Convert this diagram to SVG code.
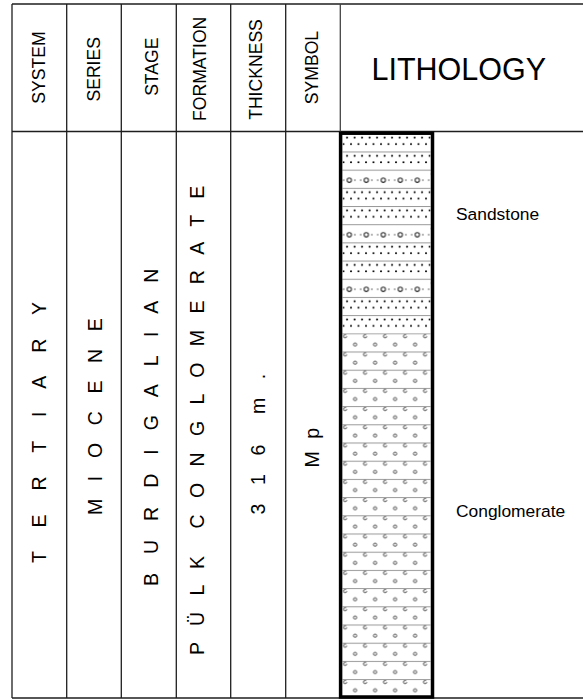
<svg xmlns="http://www.w3.org/2000/svg" width="583" height="699" viewBox="0 0 583 699">
  <style>
    text { font-family: "Liberation Sans", Arial, Helvetica, sans-serif; fill: #000; }
    .hdr { font-size: 17.6px; text-anchor: middle; }
    .big { font-size: 30.5px; }
    .col { font-size: 19.5px; white-space: pre; }
    .lbl { font-size: 17.4px; }
    .grid { stroke: #1e1e1e; stroke-width: 1.3; fill: none; }
  </style>
  <defs>
    <!-- sandstone: two staggered rows of dots per band, grey band line on top -->
    <pattern id="sand" patternUnits="userSpaceOnUse" x="342.5" y="133.3" width="7.5" height="18.18">
      <rect width="7.5" height="18.18" fill="#fff"/>
      <rect width="7.5" height="1" fill="#9a9a9a"/>
      <circle cx="4.6" cy="4.4" r="1" fill="#000"/>
      <circle cx="1" cy="10.7" r="1" fill="#000"/>
    </pattern>
    <!-- pebbly sandstone band: dotted line with small pebbles -->
    <pattern id="pebbly" patternUnits="userSpaceOnUse" x="342.5" y="133.3" width="17" height="18.18">
      <rect width="17" height="18.18" fill="#fff"/>
      <rect width="17" height="1" fill="#9a9a9a"/>
      <circle cx="1.2" cy="10.6" r="0.7" fill="#333"/>
      <circle cx="12.4" cy="10.6" r="0.7" fill="#333"/>
      <circle cx="6.8" cy="10.6" r="2.2" fill="#fff" stroke="#222" stroke-width="1"/>
    </pattern>
    <!-- conglomerate: two staggered rows of pebbles per band -->
    <pattern id="congl" patternUnits="userSpaceOnUse" x="342.5" y="333.3" width="20" height="18.2">
      <rect width="20" height="18.2" fill="#fff"/>
      <rect width="20" height="1" fill="#9a9a9a"/>
      <circle cx="2.6" cy="3" r="1.6" fill="none" stroke="#333" stroke-width="0.9" stroke-dasharray="7.8 2.2"/>
      <circle cx="12.6" cy="11.2" r="1.6" fill="none" stroke="#333" stroke-width="0.9"/>
    </pattern>
  </defs>

  <rect width="583" height="699" fill="#fff"/>

  <!-- table grid -->
  <g id="grid" class="grid">
    <line x1="12" y1="4" x2="583" y2="4"/>
    <line x1="12" y1="131.5" x2="583" y2="131.5"/>
    <line x1="12" y1="698" x2="583" y2="698"/>
    <line x1="12" y1="4" x2="12" y2="698"/>
    <line x1="66.7" y1="4" x2="66.7" y2="698"/>
    <line x1="121.3" y1="4" x2="121.3" y2="698"/>
    <line x1="176.3" y1="4" x2="176.3" y2="698"/>
    <line x1="230.7" y1="4" x2="230.7" y2="698"/>
    <line x1="285.7" y1="4" x2="285.7" y2="698"/>
    <line x1="340.3" y1="4" x2="340.3" y2="132" stroke="#444"/>
  </g>

  <!-- header labels -->
  <g id="header">
    <text class="hdr" transform="translate(44.8 67.5) rotate(-90)">SYSTEM</text>
    <text class="hdr" transform="translate(100.2 69.3) rotate(-90)">SERIES</text>
    <text class="hdr" transform="translate(158.2 66.7) rotate(-90)">STAGE</text>
    <text class="hdr" transform="translate(206 68.8) rotate(-90)">FORMATION</text>
    <text class="hdr" transform="translate(261.5 69.5) rotate(-90)">THICKNESS</text>
    <text class="hdr" transform="translate(318.2 67.5) rotate(-90)">SYMBOL</text>
    <text class="big" x="371.5" y="80">LITHOLOGY</text>
  </g>

  <!-- column entries -->
  <g id="system">
    <text class="col" style="letter-spacing:9.3px" transform="translate(45.5 563) rotate(-90)">T E R T I A R Y</text>
  </g>
  <g id="series">
    <text class="col" style="letter-spacing:6.1px" transform="translate(101.5 515) rotate(-90)">M I O C E N E</text>
  </g>
  <g id="stage">
    <text class="col" style="letter-spacing:6.8px" transform="translate(157.5 586) rotate(-90)">B U R D I G A L I A N</text>
  </g>
  <g id="formation">
    <text class="col" style="letter-spacing:5.5px" transform="translate(204 655) rotate(-90)">P Ü L K  C O N G L O M E R A T E</text>
  </g>
  <g id="thickness">
    <text class="col" style="letter-spacing:6.6px" transform="translate(265 514.5) rotate(-90)">3 1 6  m .</text>
  </g>
  <g id="symbol">
    <text class="col" style="letter-spacing:3.5px" transform="translate(319 467.5) rotate(-90)">M p</text>
  </g>

  <!-- lithology column -->
  <g id="lithology">
    <rect x="342.5" y="133.3" width="88" height="200" fill="url(#sand)"/>
    <rect x="342.5" y="169.66" width="88" height="18.18" fill="url(#pebbly)"/>
    <rect x="342.5" y="224.2" width="88" height="18.18" fill="url(#pebbly)"/>
    <rect x="342.5" y="278.74" width="88" height="18.18" fill="url(#pebbly)"/>
    <rect x="342.5" y="333.3" width="88" height="364" fill="url(#congl)"/>
    <rect x="340.6" y="133.2" width="91.9" height="563.8" fill="none" stroke="#000" stroke-width="3.5"/>
  </g>

  <g id="labels">
    <text class="lbl" x="456" y="220">Sandstone</text>
    <text class="lbl" x="456" y="517">Conglomerate</text>
  </g>
</svg>
